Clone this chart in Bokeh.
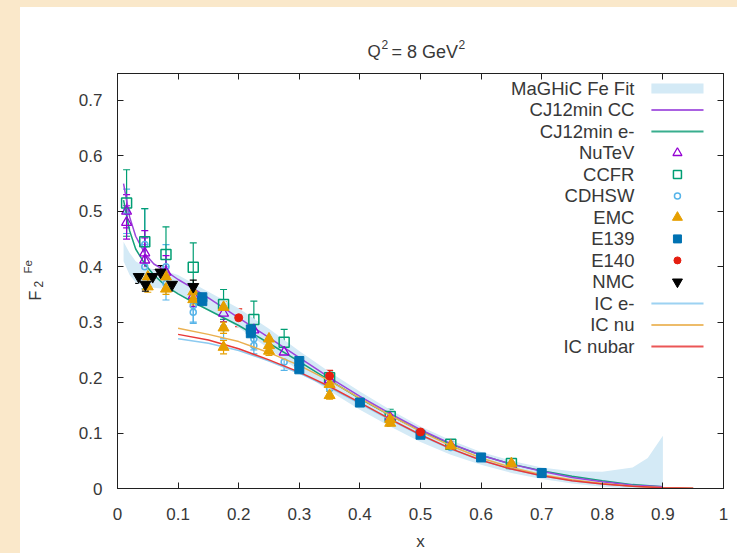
import numpy as np
from bokeh.plotting import figure
from bokeh.models import (ColumnDataSource, Whisker, TeeHead, Label, LinearAxis,
                          FixedTicker, Range1d, Spacer)
from bokeh.layouts import column, row
from bokeh.core.properties import value
from bokeh.embed import file_html
from bokeh.resources import INLINE

# ---------------- data ----------------
# MaGHiC Fe Fit band
band_x = [0.01, 0.02, 0.03, 0.045, 0.06, 0.08, 0.1, 0.125, 0.15, 0.175, 0.2, 0.25, 0.3, 0.35, 0.4,
          0.45, 0.5, 0.55, 0.6, 0.65, 0.7, 0.75, 0.8, 0.85, 0.875, 0.9]
band_hi = [0.445, 0.425, 0.41, 0.40, 0.395, 0.392, 0.385, 0.37, 0.355, 0.34, 0.325, 0.288, 0.248, 0.21,
           0.175, 0.142, 0.112, 0.087, 0.066, 0.05, 0.038, 0.031, 0.03, 0.038, 0.055, 0.095]
band_lo = [0.41, 0.385, 0.372, 0.365, 0.362, 0.36, 0.352, 0.337, 0.322, 0.307, 0.29, 0.252, 0.212,
           0.176, 0.142, 0.112, 0.084, 0.061, 0.043, 0.028, 0.017, 0.009, 0.003, 0.0, 0.0, 0.0]

# CJ12min curves
cj_x = [0.01, 0.02, 0.03, 0.045, 0.06, 0.08, 0.1, 0.125, 0.15, 0.175, 0.2, 0.25, 0.3, 0.35, 0.4,
        0.45, 0.5, 0.55, 0.6, 0.65, 0.7, 0.75, 0.8, 0.85, 0.9]
cj_cc = [0.55, 0.49, 0.455, 0.424, 0.405, 0.392, 0.377, 0.361, 0.344, 0.326, 0.308, 0.272, 0.236,
         0.2, 0.166, 0.135, 0.106, 0.081, 0.06, 0.044, 0.031, 0.02, 0.012, 0.006, 0.003]
cj_em = [0.52, 0.465, 0.432, 0.405, 0.385, 0.365, 0.351, 0.336, 0.322, 0.308, 0.294, 0.262, 0.229,
         0.195, 0.162, 0.132, 0.104, 0.08, 0.06, 0.044, 0.032, 0.022, 0.014, 0.007, 0.003]

# IC curves
ic_x = [0.1, 0.15, 0.2, 0.25, 0.3, 0.35, 0.4, 0.45, 0.5, 0.55, 0.6, 0.65, 0.7, 0.75, 0.8, 0.85, 0.9, 0.95]
ic_e = [0.27, 0.262, 0.249, 0.23, 0.208, 0.182, 0.153, 0.124, 0.096, 0.071, 0.051, 0.035, 0.023,
        0.014, 0.008, 0.004, 0.0015, 0.0004]
ic_nu = [0.289, 0.278, 0.265, 0.245, 0.222, 0.194, 0.163, 0.132, 0.103, 0.077, 0.055, 0.038, 0.025,
         0.016, 0.009, 0.004, 0.0015, 0.0005]
ic_nubar = [0.278, 0.268, 0.252, 0.232, 0.21, 0.184, 0.155, 0.125, 0.097, 0.072, 0.051, 0.035, 0.023,
            0.014, 0.008, 0.004, 0.0015, 0.0004]

# data sets (x, F2, error)
nutev_x = [0.015, 0.015, 0.045, 0.045, 0.08, 0.125, 0.175, 0.225, 0.275, 0.35, 0.45, 0.55, 0.65]
nutev_y = [0.50, 0.48, 0.425, 0.412, 0.39, 0.348, 0.316, 0.286, 0.246, 0.196, 0.128, 0.078, 0.044]
nutev_e = [0.03, 0.03, 0.04, 0.04, 0.03, 0.02, 0.015, 0.012, 0.01, 0.008, 0.006, 0.004, 0.003]

ccfr_x = [0.015, 0.045, 0.08, 0.125, 0.175, 0.225, 0.275, 0.35, 0.45, 0.55, 0.65]
ccfr_y = [0.515, 0.445, 0.422, 0.399, 0.332, 0.305, 0.264, 0.2, 0.13, 0.08, 0.045]
ccfr_e = [0.06, 0.06, 0.05, 0.044, 0.027, 0.033, 0.023, 0.012, 0.013, 0.005, 0.003]

cdhsw_x = [0.015, 0.045, 0.045, 0.08, 0.08, 0.125, 0.125, 0.175, 0.225, 0.225, 0.275, 0.35, 0.45, 0.55, 0.65]
cdhsw_y = [0.50, 0.44, 0.40, 0.40, 0.37, 0.33, 0.318, 0.29, 0.27, 0.258, 0.228, 0.18, 0.12, 0.074, 0.04]
cdhsw_e = [0.04, 0.065, 0.04, 0.04, 0.03, 0.03, 0.02, 0.02, 0.02, 0.015, 0.015, 0.01, 0.008, 0.005, 0.003]

emc_x = [0.05, 0.05, 0.08, 0.08, 0.125, 0.125, 0.175, 0.175, 0.175, 0.25, 0.25, 0.25, 0.35, 0.35,
         0.45, 0.45, 0.55, 0.65]
emc_y = [0.382, 0.364, 0.382, 0.36, 0.355, 0.341, 0.327, 0.29, 0.255, 0.27, 0.258, 0.248, 0.188, 0.168,
         0.125, 0.118, 0.077, 0.045]
emc_e = [0.01, 0.01, 0.01, 0.01, 0.01, 0.01, 0.01, 0.01, 0.012, 0.008, 0.008, 0.008, 0.007, 0.007,
         0.005, 0.005, 0.004, 0.003]

e139_x = [0.14, 0.14, 0.22, 0.22, 0.3, 0.3, 0.4, 0.5, 0.6, 0.7]
e139_y = [0.345, 0.338, 0.287, 0.28, 0.23, 0.215, 0.155, 0.097, 0.056, 0.028]
e139_e = [0.005, 0.005, 0.005, 0.005, 0.004, 0.004, 0.004, 0.003, 0.002, 0.002]

e140_x = [0.2, 0.35, 0.5]
e140_y = [0.308, 0.203, 0.102]
e140_e = [0.016, 0.01, 0.006]

nmc_x = [0.035, 0.046, 0.058, 0.071, 0.09, 0.125]
nmc_y = [0.382, 0.368, 0.382, 0.39, 0.368, 0.364]
nmc_e = [0.012, 0.012, 0.012, 0.012, 0.012, 0.012]

x_ticks = [0, 0.1, 0.2, 0.3, 0.4, 0.5, 0.6, 0.7, 0.8, 0.9, 1]
x_tick_labels = ["0", "0.1", "0.2", "0.3", "0.4", "0.5", "0.6", "0.7", "0.8", "0.9", "1"]
y_ticks = [0, 0.1, 0.2, 0.3, 0.4, 0.5, 0.6, 0.7]
y_tick_labels = ["0", "0.1", "0.2", "0.3", "0.4", "0.5", "0.6", "0.7"]

# ---------------- style ----------------
FONT = "Liberation Sans"
TXT = "#383838"
C_BAND = "#d4eaf6"
C_CC = "#9b45dc"
C_EM = "#16a07a"
C_NUTEV = "#9400d3"
C_CCFR = "#009e73"
C_CDHSW = "#56b4e9"
C_EMC = "#e69f00"
C_E139 = "#0072b2"
C_E140 = "#e51e10"
C_NMC = "#000000"
C_ICE = "#8ccaf0"
C_ICNU = "#eab050"
C_ICNB = "#e83838"
BG = "#fae8ca"

# layout geometry (window pixels): white panel starts at (20, 7)
TITLE_H = 59      # title strip: window y 7..66
YLAB_W = 40       # y-label strip: window x 20..60
W = 737 - 20 - YLAB_W
H = 553 - 7 - TITLE_H

p = figure(width=W, height=H, output_backend="svg", toolbar_location=None,
           x_range=Range1d(0, 1), y_range=Range1d(0, 0.7486),
           min_border_left=57, min_border_right=14, min_border_top=7, min_border_bottom=63)
p.grid.visible = False
p.background_fill_color = "white"
p.border_fill_color = "white"
p.outline_line_color = "#202020"
p.outline_line_width = 1

for ax in (p.xaxis[0], p.yaxis[0]):
    ax.major_tick_in = 6
    ax.major_tick_out = 0
    ax.minor_tick_in = 0
    ax.minor_tick_out = 0
    ax.axis_line_color = "#202020"
    ax.major_tick_line_color = "#202020"
    ax.major_label_text_font = FONT
    ax.major_label_text_font_size = "17px"
    ax.major_label_text_color = TXT
    ax.axis_label_text_font = FONT
    ax.axis_label_text_font_style = "normal"
    ax.axis_label_text_color = TXT

p.xaxis.ticker = FixedTicker(ticks=x_ticks)
p.xaxis.major_label_overrides = {t: l for t, l in zip(x_ticks, x_tick_labels)}
p.xaxis.major_label_standoff = 19
p.xaxis.axis_label = "x"
p.xaxis.axis_label_text_font_size = "17px"
p.xaxis.axis_label_standoff = 9
p.yaxis.ticker = FixedTicker(ticks=y_ticks)
p.yaxis.major_label_overrides = {t: l for t, l in zip(y_ticks, y_tick_labels)}
p.yaxis.major_label_standoff = 15

# mirrored axes (ticks only, no labels)
top = LinearAxis(ticker=FixedTicker(ticks=x_ticks),
                 major_label_overrides={t: "" for t in x_ticks}, major_label_standoff=0,
                 major_tick_in=6, major_tick_out=0, minor_tick_in=0, minor_tick_out=0,
                 axis_line_color="#202020", major_tick_line_color="#202020")
right = LinearAxis(ticker=FixedTicker(ticks=y_ticks),
                   major_label_overrides={t: "" for t in y_ticks},
                   major_tick_in=6, major_tick_out=0, minor_tick_in=0, minor_tick_out=0,
                   axis_line_color="#202020", major_tick_line_color="#202020")
p.add_layout(top, "above")
p.add_layout(right, "right")

# band
p.varea(x=band_x, y1=band_lo, y2=band_hi, fill_color=C_BAND, fill_alpha=1)

# curves
p.line(cj_x, cj_em, line_color=C_EM, line_width=1.5)
p.line(cj_x, cj_cc, line_color=C_CC, line_width=1.5)


def errbars(xs, ys, es, color, width=1.2):
    src = ColumnDataSource(dict(x=xs, lo=[y - e for y, e in zip(ys, es)], hi=[y + e for y, e in zip(ys, es)]))
    w = Whisker(base="x", lower="lo", upper="hi", source=src, line_color=color, line_width=width,
                upper_head=TeeHead(size=7, line_color=color, line_width=width),
                lower_head=TeeHead(size=7, line_color=color, line_width=width))
    p.add_layout(w)


errbars(cdhsw_x, cdhsw_y, cdhsw_e, C_CDHSW)
p.scatter(cdhsw_x, cdhsw_y, marker="circle", size=6, fill_color=None, line_color=C_CDHSW, line_width=1.5)
errbars(ccfr_x, ccfr_y, ccfr_e, C_CCFR)
p.scatter(ccfr_x, ccfr_y, marker="square", size=10, fill_color=None, line_color=C_CCFR, line_width=1.5)
errbars(nutev_x, nutev_y, nutev_e, C_NUTEV)
p.scatter(nutev_x, nutev_y, marker="triangle", size=10, fill_color=None, line_color=C_NUTEV, line_width=1.3)

p.line(ic_x, ic_e, line_color=C_ICE, line_width=1.5)
p.line(ic_x, ic_nu, line_color=C_ICNU, line_width=1.5)
p.line(ic_x, ic_nubar, line_color=C_ICNB, line_width=1.5)

errbars(emc_x, emc_y, emc_e, C_EMC)
p.scatter(emc_x, emc_y, marker="triangle", size=11, fill_color=C_EMC, line_color=C_EMC)
errbars(e139_x, e139_y, e139_e, C_E139)
p.scatter(e139_x, e139_y, marker="square", size=9, fill_color=C_E139, line_color=C_E139)
errbars(e140_x, e140_y, e140_e, C_E140)
p.scatter(e140_x, e140_y, marker="circle", size=8, fill_color=C_E140, line_color=C_E140)
errbars(nmc_x, nmc_y, nmc_e, C_NMC)
p.scatter(nmc_x, nmc_y, marker="inverted_triangle", size=11, fill_color=C_NMC, line_color=C_NMC)

# ---------------- legend (gnuplot style: label right-aligned, sample to the right) ----------------
legend_entries = [
    ("MaGHiC Fe Fit", "band", C_BAND),
    ("CJ12min CC", "line", C_CC),
    ("CJ12min e-", "line", C_EM),
    ("NuTeV", "triangle_open", C_NUTEV),
    ("CCFR", "square_open", C_CCFR),
    ("CDHSW", "circle_open", C_CDHSW),
    ("EMC", "triangle", C_EMC),
    ("E139", "square", C_E139),
    ("E140", "circle", C_E140),
    ("NMC", "inverted_triangle", C_NMC),
    ("IC e-", "line", C_ICE),
    ("IC nu", "line", C_ICNU),
    ("IC nubar", "line", C_ICNB),
]
ppy = 0.7486 / 417.0
y0 = 0.7486 - 15 * ppy
dy = 21.6 * ppy
tx = 0.853
sx0, sx1, mx = 0.881, 0.967, 0.924
labels = [e[0] for e in legend_entries]
ly = [y0 - i * dy for i in range(len(legend_entries))]
p.text(x=[tx] * len(labels), y=ly, text=labels, text_align="right", text_baseline="middle",
       text_font=value(FONT), text_font_size="18.5px", text_color=TXT)
for (lab, kind, col), yy in zip(legend_entries, ly):
    if kind == "band":
        p.quad(left=sx0, right=sx1, bottom=yy - 5 * ppy, top=yy + 5 * ppy, fill_color=col, line_color=None)
    elif kind == "line":
        p.line([sx0, sx1], [yy, yy], line_color=col, line_width=2, line_alpha=0.85)
    elif kind == "triangle_open":
        p.scatter([mx], [yy], marker="triangle", size=9, fill_color=None, line_color=col, line_width=1.3)
    elif kind == "square_open":
        p.scatter([mx], [yy], marker="square", size=8, fill_color=None, line_color=col, line_width=1.5)
    elif kind == "circle_open":
        p.scatter([mx], [yy], marker="circle", size=6, fill_color=None, line_color=col, line_width=1.5)
    elif kind == "triangle":
        p.scatter([mx], [yy], marker="triangle", size=10, fill_color=col, line_color=col)
    elif kind == "square":
        p.scatter([mx], [yy], marker="square", size=8, fill_color=col, line_color=col)
    elif kind == "circle":
        p.scatter([mx], [yy], marker="circle", size=7, fill_color=col, line_color=col)
    elif kind == "inverted_triangle":
        p.scatter([mx], [yy], marker="inverted_triangle", size=10, fill_color=col, line_color=col)


# ---------------- title and y-label strips (text with super/subscripts) ----------------
def strip(width, height):
    f = figure(width=width, height=height, output_backend="svg", toolbar_location=None,
               x_range=Range1d(0, width), y_range=Range1d(0, height),
               x_axis_type=None, y_axis_type=None,
               min_border=0, min_border_left=0, min_border_right=0, min_border_top=0, min_border_bottom=0)
    f.grid.visible = False
    f.outline_line_color = None
    f.background_fill_color = "white"
    f.border_fill_color = "white"
    return f


def lab(fig, text, x, y, size, angle=0.0):
    fig.add_layout(Label(x=x, y=y, x_units="screen", y_units="screen", text=text, angle=angle,
                         text_font=FONT, text_font_size=size, text_color=TXT,
                         text_baseline="alphabetic", text_align="left"))


# title strip: screen x = window x - 20, screen y = 66 - window y
tfig = strip(737 - 20, TITLE_H)
lab(tfig, "Q", 347, 15, "17px")
lab(tfig, "2", 361, 22, "12px")
lab(tfig, " = 8 GeV", 371, 15, "18px")
lab(tfig, "2", 438, 22, "12px")

# y-label strip; its frame is aligned with the main frame (window y 73..490):
# screen x = window x - 20, screen y = 490 - window y
yfig = strip(YLAB_W, H)
lab(yfig, "F", 15, 188, "16px", angle=np.pi / 2)
lab(yfig, "2", 18, 201, "12px", angle=np.pi / 2)
lab(yfig, "Fe", 7, 215, "11.5px", angle=np.pi / 2)

layout = column(Spacer(width=737, height=7, styles={"background-color": BG}),
                row(Spacer(width=20, height=553 - 7, styles={"background-color": BG}),
                    column(tfig, row(yfig, p))))

open("out.html", "w").write(file_html(layout, INLINE))
